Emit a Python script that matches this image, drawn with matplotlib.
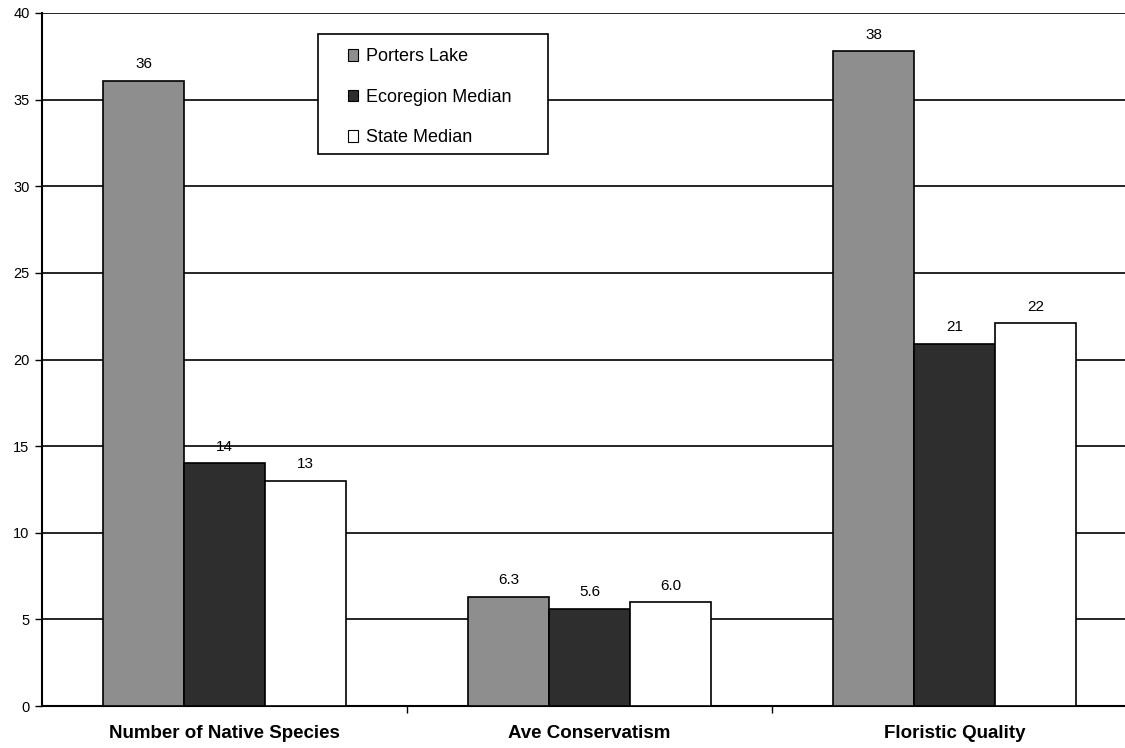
import matplotlib.pyplot as plt
from matplotlib.patches import Rectangle
import numpy as np

plt.rcParams['font.family'] = ['Liberation Sans', 'DejaVu Sans']

categories = ['Number of Native Species', 'Ave Conservatism', 'Floristic Quality']
series_names = ['Porters Lake', 'Ecoregion Median', 'State Median']
porters = [36.1, 6.3, 37.8]
ecoregion = [14.0, 5.6, 20.9]
state = [13.0, 6.0, 22.1]
label_fmt = ['{:.0f}', '{:.1f}', '{:.0f}']

colors = ['#8e8e8e', '#2e2e2e', '#ffffff']

fig = plt.figure(figsize=(11.25, 7.48), dpi=100)
ax = fig.add_axes([42 / 1125, 1 - 706 / 748, 1095 / 1125, 693 / 748])

x = np.arange(len(categories))
w = 0.222
for i, (vals, name, col) in enumerate(zip([porters, ecoregion, state], series_names, colors)):
    xs = x + (i - 1) * w
    ax.bar(xs, vals, width=w, color=col, edgecolor='black', linewidth=1.2,
           label=name, zorder=3)
    for xi, v, f in zip(xs, vals, label_fmt):
        ax.text(xi, v + 0.55, f.format(v), ha='center', va='bottom',
                fontsize=11, zorder=4)

ax.set_xlim(-0.5, 2.5)
ax.set_ylim(0, 40)
ax.set_yticks(np.arange(0, 41, 5))
ax.yaxis.grid(True, color='black', linewidth=1.2, zorder=0)
ax.set_axisbelow(True)

ax.set_xticks([0.5, 1.5], minor=False)
ax.set_xticklabels([])
ax.set_xticks(x, minor=True)
ax.set_xticklabels(categories, minor=True, fontsize=13.5, fontweight='bold')
ax.tick_params(axis='x', which='minor', length=0, pad=14)
ax.tick_params(axis='x', which='major', length=5, width=1, direction='out')
ax.tick_params(axis='y', length=5, width=1, labelsize=10.5, pad=4)

for s in ['top', 'right']:
    ax.spines[s].set_visible(False)
ax.spines['left'].set_linewidth(1.5)
ax.spines['bottom'].set_linewidth(1.5)

# legend box drawn separately so it can be wider than its entries
ax.add_patch(Rectangle((0.252, 0.797), 0.210, 0.173, transform=ax.transAxes,
                       facecolor='white', edgecolor='black', linewidth=1.2,
                       zorder=5))
leg = ax.legend(loc='upper left', bbox_to_anchor=(0.279, 0.949), fontsize=13,
                handlelength=0.6, handleheight=0.6, handletextpad=0.4,
                labelspacing=1.3, borderpad=0, borderaxespad=0,
                frameon=False)
leg.set_zorder(6)
for h in leg.legend_handles:
    h.set_linewidth(0.8)

fig.savefig('out.png', dpi=100)
